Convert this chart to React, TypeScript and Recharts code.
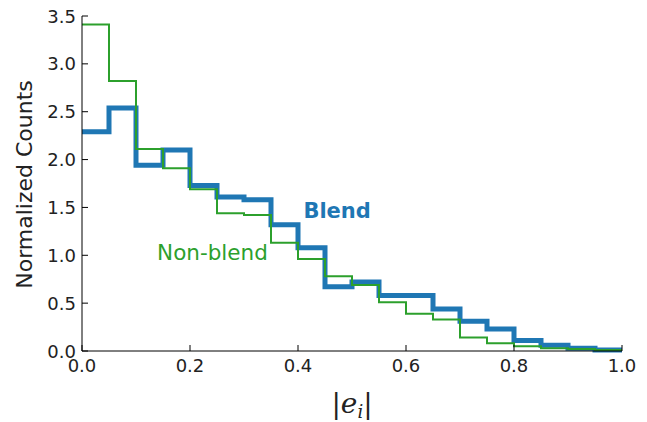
import React from 'react';
import { LineChart, Line, XAxis, YAxis, ReferenceDot } from 'recharts';

// left bin edges, 0.05 wide
const binEdges = [0, 0.05, 0.1, 0.15, 0.2, 0.25, 0.3, 0.35, 0.4, 0.45, 0.5, 0.55, 0.6, 0.65, 0.7, 0.75, 0.8, 0.85, 0.9, 0.95];
const blendCounts = [2.29, 2.54, 1.94, 2.1, 1.73, 1.61, 1.58, 1.32, 1.08, 0.67, 0.72, 0.58, 0.58, 0.44, 0.31, 0.23, 0.11, 0.06, 0.03, 0.01];
const nonBlendCounts = [3.41, 2.82, 2.11, 1.91, 1.69, 1.44, 1.42, 1.13, 0.96, 0.78, 0.69, 0.51, 0.39, 0.33, 0.14, 0.08, 0.05, 0.03, 0.02, 0.01];
const xTicks = [0, 0.2, 0.4, 0.6, 0.8, 1.0];
const yTicks = [0, 0.5, 1, 1.5, 2, 2.5, 3, 3.5];

const BLUE = '#1f77b4';
const GREEN = '#2ca02c';
const FONT = '"DejaVu Sans", sans-serif';

// step data: one point per bin edge, last bin closed at x = 1
const data = binEdges.map((x, i) => ({ x, blend: blendCounts[i], nonBlend: nonBlendCounts[i] }));
data.push({ x: 1, blend: blendCounts[blendCounts.length - 1], nonBlend: nonBlendCounts[nonBlendCounts.length - 1] });

const TICK_LEN = 6;

const BottomTick = (p: any) => (
  <g>
    <line x1={p.x} x2={p.x} y1={p.y} y2={p.y - TICK_LEN} stroke="#000" />
    <text x={p.x} y={p.y + 21} textAnchor="middle" fontFamily={FONT} fontSize={18} fill="#222">
      {Number(p.payload.value).toFixed(1)}
    </text>
  </g>
);

const LeftTick = (p: any) => (
  <g>
    <line x1={p.x} x2={p.x + TICK_LEN} y1={p.y} y2={p.y} stroke="#000" />
    <text x={p.x - 6} y={p.y + 6.5} textAnchor="end" fontFamily={FONT} fontSize={18} fill="#222">
      {Number(p.payload.value).toFixed(1)}
    </text>
  </g>
);

const TopTick = (p: any) => <line x1={p.x} x2={p.x} y1={p.y} y2={p.y + TICK_LEN} stroke="#000" />;
const RightTick = (p: any) => <line x1={p.x} x2={p.x - TICK_LEN} y1={p.y} y2={p.y} stroke="#000" />;

const App = () => {
  return (
    <div style={{ position: 'absolute', left: 0, top: 0, background: '#fff' }}>
      <LineChart width={647} height={422} data={data} margin={{ top: 16, right: 25, left: 0, bottom: 0 }}>
        <XAxis
          xAxisId="bottom"
          dataKey="x"
          type="number"
          domain={[0, 1]}
          ticks={xTicks}
          height={71}
          tickSize={0}
          tickMargin={0}
          tickLine={false}
          axisLine={{ stroke: '#000' }}
          tick={BottomTick}
          label={(props: any) => {
            const vb = props.viewBox;
            const cx = vb.x + vb.width / 2;
            const by = vb.y + 62;
            return (
              <text x={cx} y={by} textAnchor="middle" fontFamily='"DejaVu Serif", serif' fill="#222">
                <tspan fontSize={28}>|</tspan>
                <tspan fontSize={28} fontStyle="italic">e</tspan>
                <tspan fontSize={18} fontStyle="italic" dy={5}>i</tspan>
                <tspan fontSize={28} dy={-5}>|</tspan>
              </text>
            );
          }}
        />
        <XAxis
          xAxisId="top"
          dataKey="x"
          type="number"
          orientation="top"
          domain={[0, 1]}
          ticks={xTicks}
          height={0}
          tickSize={0}
          tickMargin={0}
          tickLine={false}
          axisLine={{ stroke: '#000' }}
          tick={TopTick}
        />
        <YAxis
          yAxisId="left"
          type="number"
          domain={[0, 3.5]}
          ticks={yTicks}
          width={82}
          tickSize={0}
          tickMargin={0}
          tickLine={false}
          axisLine={{ stroke: '#000' }}
          tick={LeftTick}
          label={(props: any) => {
            const vb = props.viewBox;
            const lx = vb.x + 32;
            const cy = vb.y + vb.height / 2 + 1;
            return (
              <text x={lx} y={cy} textAnchor="middle" fontFamily={FONT} fontSize={22} fill="#222" transform={`rotate(-90, ${lx}, ${cy})`}>
                Normalized Counts
              </text>
            );
          }}
        />
        <YAxis
          yAxisId="right"
          type="number"
          orientation="right"
          domain={[0, 3.5]}
          ticks={yTicks}
          width={0}
          tickSize={0}
          tickMargin={0}
          tickLine={false}
          axisLine={{ stroke: '#000' }}
          tick={RightTick}
        />
        <Line
          xAxisId="bottom"
          yAxisId="left"
          type="stepAfter"
          dataKey="blend"
          stroke={BLUE}
          strokeWidth={5}
          dot={false}
          activeDot={false}
          isAnimationActive={false}
        />
        <Line
          xAxisId="bottom"
          yAxisId="left"
          type="stepAfter"
          dataKey="nonBlend"
          stroke={GREEN}
          strokeWidth={2}
          dot={false}
          activeDot={false}
          isAnimationActive={false}
        />
        <ReferenceDot
          xAxisId="bottom"
          yAxisId="left"
          x={0.41}
          y={1.39}
          r={0}
          stroke="none"
          label={(props: any) => (
            <text x={props.viewBox.x} y={props.viewBox.y} fontFamily={FONT} fontSize={21} fontWeight="bold" fill={BLUE}>
              Blend
            </text>
          )}
        />
        <ReferenceDot
          xAxisId="bottom"
          yAxisId="left"
          x={0.139}
          y={0.95}
          r={0}
          stroke="none"
          label={(props: any) => (
            <text x={props.viewBox.x} y={props.viewBox.y} fontFamily={FONT} fontSize={21.5} fill={GREEN}>
              Non-blend
            </text>
          )}
        />
      </LineChart>
    </div>
  );
};

export default App;
